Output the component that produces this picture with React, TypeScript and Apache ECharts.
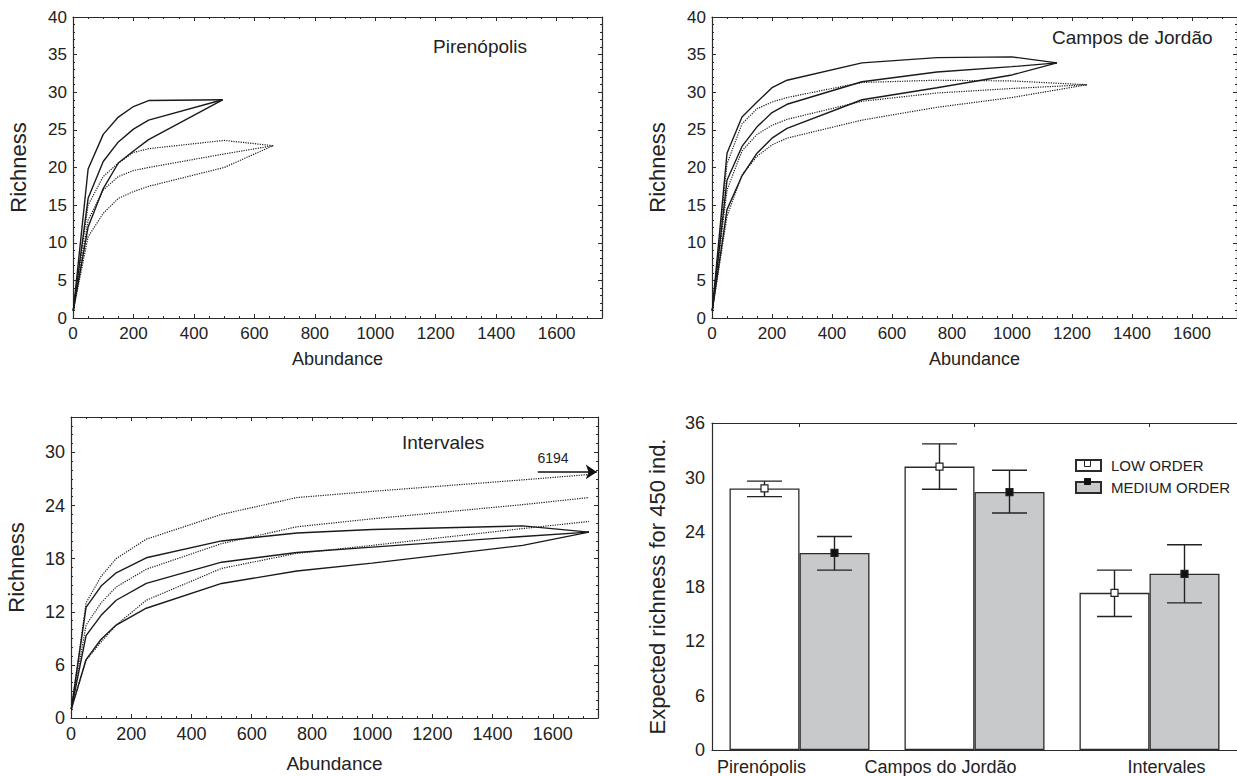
import React, { useEffect, useRef } from "react";
import * as echarts from "echarts";

// ---------- DATA ----------
// Pirenópolis (top-left)
const pirSolidX = [1, 50, 100, 150, 200, 250, 495];
const pirSolidUpper = [1, 19.8, 24.4, 26.7, 28.1, 28.9, 29.0];
const pirSolidMean = [1, 15.9, 20.8, 23.4, 25.1, 26.3, 29.0];
const pirSolidLower = [1, 12.1, 17.2, 20.6, 22.2, 23.7, 29.0];
const pirDottedX = [1, 50, 100, 150, 200, 250, 500, 662];
const pirDottedUpper = [1, 15.0, 18.8, 20.6, 22.0, 22.5, 23.6, 22.9];
const pirDottedMean = [1, 13.0, 17.0, 18.8, 19.6, 20.0, 21.8, 22.9];
const pirDottedLower = [1, 10.8, 13.9, 15.9, 16.8, 17.5, 20.0, 22.9];

// Campos de Jordão (top-right)
const camSolidX = [1, 50, 100, 150, 200, 250, 500, 750, 1000, 1150];
const camSolidUpper = [1, 21.9, 26.7, 28.7, 30.6, 31.6, 33.9, 34.6, 34.7, 33.9];
const camSolidMean = [1, 18.3, 22.8, 25.4, 27.3, 28.4, 31.4, 32.7, 33.4, 33.9];
const camSolidLower = [1, 14.4, 18.9, 21.9, 23.9, 25.2, 29.0, 30.6, 32.3, 33.9];
const camDottedX = [1, 50, 100, 150, 200, 250, 500, 750, 1000, 1250];
const camDottedUpper = [1, 20.5, 25.8, 27.8, 28.7, 29.3, 31.3, 31.6, 31.5, 31.0];
const camDottedMean = [1, 17.0, 22.2, 24.4, 25.6, 26.4, 28.8, 29.9, 30.5, 31.0];
const camDottedLower = [1, 13.5, 19.0, 21.5, 23.0, 23.9, 26.3, 28.0, 29.3, 31.0];

// Intervales (bottom-left)
const intSolidX = [1, 50, 100, 150, 250, 500, 750, 1000, 1500, 1720];
const intSolidUpper = [1, 12.5, 14.9, 16.4, 18.1, 20.0, 20.9, 21.3, 21.7, 21.0];
const intSolidMean = [1, 9.3, 11.6, 13.3, 15.2, 17.6, 18.7, 19.3, 20.5, 21.0];
const intSolidLower = [1, 6.6, 8.9, 10.5, 12.4, 15.2, 16.6, 17.5, 19.5, 21.0];
const intDottedX = [1, 50, 100, 150, 250, 500, 750, 1000, 1500, 1720];
const intDottedUpper = [1, 13.0, 16.0, 18.0, 20.2, 23.0, 24.9, 25.6, 26.9, 27.5];
const intDottedMean = [1, 10.5, 13.0, 14.8, 16.8, 19.7, 21.6, 22.5, 24.1, 24.9];
const intDottedLower = [1, 6.5, 8.6, 10.5, 13.3, 16.9, 18.6, 19.5, 21.4, 22.2];
const intArrowFrom = [1550, 27.8];
const intArrowTo = [1746, 27.8];
const intArrowLabel = "6194";

// Expected richness bars (bottom-right)
const sites = ["Pirenópolis", "Campos do Jordão", "Intervales"];
const lowMean = [28.8, 31.2, 17.3];
const lowUpper = [29.6, 33.7, 19.8];
const lowLower = [27.9, 28.7, 14.7];
const medMean = [21.7, 28.4, 19.4];
const medUpper = [23.5, 30.8, 22.6];
const medLower = [19.8, 26.1, 16.2];

const panelTitles = ["Pirenópolis", "Campos de Jordão", "Intervales"];

// ---------- STYLE ----------
const FONT = "'Liberation Sans', Arial, Helvetica, sans-serif";
const INK = "#1a1a1a";
const AXIS = "#2b2b2b";

function zip(xs: number[], ys: number[]) {
  return xs.map((x, i) => [x, ys[i]]);
}

function lineSeries(xs: number[], ys: number[], gi: number, dotted: boolean, extra: any = {}) {
  return {
    type: "line",
    xAxisIndex: gi * 2,
    yAxisIndex: gi * 2,
    data: zip(xs, ys),
    symbol: "none",
    showSymbol: false,
    silent: true,
    lineStyle: { color: INK, width: dotted ? 1.2 : 1.4, type: dotted ? "dotted" : "solid" },
    z: 3,
    ...extra,
  };
}

const plainNum = (v: number) => String(v);

function valueXAxes(gi: number) {
  const top = gi < 2;
  const base = {
    gridIndex: gi,
    type: "value",
    min: 0,
    max: 1750,
    interval: 200,
    axisLine: { show: true, onZero: false, lineStyle: { color: AXIS, width: 1.2 } },
    axisTick: { show: true, inside: true, length: 4, lineStyle: { color: AXIS } },
    minorTick: { show: true, splitNumber: 4, length: 2, lineStyle: { color: AXIS } },
    splitLine: { show: false },
    minorSplitLine: { show: false },
  };
  return [
    {
      ...base,
      position: "bottom",
      name: "Abundance",
      nameLocation: "middle",
      nameGap: top ? 32 : 36,
      nameTextStyle: { fontFamily: FONT, fontSize: top ? 18 : 19, color: "#222" },
      axisLabel: { show: true, fontFamily: FONT, fontSize: top ? 17 : 18, color: "#222", margin: 7, showMaxLabel: false, formatter: plainNum },
    },
    { ...base, position: "top", axisLabel: { show: false } },
  ];
}

function valueYAxes(gi: number, max: number, interval: number, minorSplit: number) {
  const top = gi < 2;
  const base = {
    gridIndex: gi,
    type: "value",
    min: 0,
    max,
    interval,
    axisLine: { show: true, onZero: false, lineStyle: { color: AXIS, width: 1.2 } },
    axisTick: { show: true, inside: true, length: 4, lineStyle: { color: AXIS } },
    minorTick: { show: true, splitNumber: minorSplit, length: 2, lineStyle: { color: AXIS } },
    splitLine: { show: false },
    minorSplitLine: { show: false },
  };
  return [
    {
      ...base,
      position: "left",
      name: "Richness",
      nameLocation: "middle",
      nameGap: 44,
      nameTextStyle: { fontFamily: FONT, fontSize: 22, color: "#222" },
      axisLabel: {
        show: true,
        fontFamily: FONT,
        fontSize: top ? 17 : 18,
        color: "#222",
        margin: 6,
        showMaxLabel: max % interval === 0,
        formatter: plainNum,
      },
    },
    { ...base, position: "right", axisLabel: { show: false } },
  ];
}

export default function App() {
  const ref = useRef<HTMLDivElement>(null);

  useEffect(() => {
    if (!ref.current) return;
    const chart = echarts.init(ref.current, null, { renderer: "svg" });

    const lowErr = sites.map((_, i) => [i, lowLower[i], lowUpper[i], lowMean[i], -1]);
    const medErr = sites.map((_, i) => [i, medLower[i], medUpper[i], medMean[i], 1]);

    const errRender = (filled: boolean) => (params: any, api: any) => {
      const idx = api.value(0);
      const lo = api.value(1);
      const hi = api.value(2);
      const m = api.value(3);
      const side = api.value(4);
      const band = api.size([1, 0])[0];
      const c = api.coord([idx, m]);
      const cx = c[0] + side * band * 0.2;
      const yTop = api.coord([idx, hi])[1];
      const yBot = api.coord([idx, lo])[1];
      const hw = band * 0.1;
      const st = { stroke: "#222", lineWidth: 1.4 };
      return {
        type: "group",
        children: [
          { type: "line", shape: { x1: cx, y1: yTop, x2: cx, y2: yBot }, style: st },
          { type: "line", shape: { x1: cx - hw, y1: yTop, x2: cx + hw, y2: yTop }, style: st },
          { type: "line", shape: { x1: cx - hw, y1: yBot, x2: cx + hw, y2: yBot }, style: st },
          {
            type: "rect",
            shape: { x: cx - 3.5, y: c[1] - 3.5, width: 7, height: 7 },
            style: { fill: filled ? "#111" : "#fff", stroke: "#222", lineWidth: 1.2 },
          },
        ],
      };
    };

    const axisTextStyle = { fontFamily: FONT, color: "#222" };

    const option: any = {
      animation: false,
      backgroundColor: "#ffffff",
      textStyle: { fontFamily: FONT },
      title: [
        { text: panelTitles[0], left: 433, top: 37, padding: 0, textStyle: { ...axisTextStyle, fontSize: 19, fontWeight: "normal" } },
        { text: panelTitles[1], left: 1052, top: 28, padding: 0, textStyle: { ...axisTextStyle, fontSize: 19, fontWeight: "normal" } },
        { text: panelTitles[2], left: 402, top: 433, padding: 0, textStyle: { ...axisTextStyle, fontSize: 19, fontWeight: "normal" } },
      ],
      grid: [
        { left: 73, top: 17, width: 529, height: 301 },
        { left: 712, top: 17, width: 526, height: 301 },
        { left: 71, top: 417, width: 527, height: 301 },
        { left: 712, top: 423, width: 527, height: 329 },
      ],
      xAxis: [
        ...valueXAxes(0),
        ...valueXAxes(1),
        ...valueXAxes(2),
        {
          gridIndex: 3,
          type: "category",
          data: sites,
          position: "bottom",
          axisLine: { show: true, onZero: false, lineStyle: { color: AXIS, width: 1.2 } },
          axisTick: { show: false },
          axisLabel: {
            interval: 0,
            fontFamily: FONT,
            fontSize: 18,
            color: "#222",
            margin: 8,
            formatter: (v: string) => (v === sites[0] ? `{a|${v}}` : v === sites[1] ? `{b|${v}}` : `{c|${v}}`),
            rich: {
              a: { fontFamily: FONT, fontSize: 18, color: "#222", padding: [0, 76, 0, 0] },
              b: { fontFamily: FONT, fontSize: 18, color: "#222", padding: [0, 68, 0, 0] },
              c: { fontFamily: FONT, fontSize: 18, color: "#222", padding: [0, 0, 0, 34] },
            },
          },
        },
        {
          gridIndex: 3,
          type: "category",
          data: sites,
          position: "top",
          axisLine: { show: true, onZero: false, lineStyle: { color: AXIS, width: 1.2 } },
          axisTick: { show: true, inside: true, alignWithLabel: true, length: 4, lineStyle: { color: AXIS } },
          axisLabel: { show: false },
        },
      ],
      yAxis: [
        ...valueYAxes(0, 40, 5, 5),
        ...valueYAxes(1, 40, 5, 5),
        ...valueYAxes(2, 34, 6, 6),
        {
          gridIndex: 3,
          type: "value",
          min: 0,
          max: 36,
          interval: 6,
          name: "Expected richness for 450 ind.",
          nameLocation: "middle",
          nameGap: 44,
          nameTextStyle: { fontFamily: FONT, fontSize: 22, color: "#222" },
          axisLine: { show: true, onZero: false, lineStyle: { color: AXIS, width: 1.2 } },
          axisTick: { show: false },
          splitLine: { show: false },
          axisLabel: { fontFamily: FONT, fontSize: 18, color: "#222", margin: 7 },
        },
      ],
      legend: {
        data: ["LOW ORDER", "MEDIUM ORDER"],
        orient: "vertical",
        left: 1075,
        top: 458,
        padding: 0,
        itemWidth: 25,
        itemHeight: 11,
        itemGap: 7,
        icon: "rect",
        selectedMode: false,
        textStyle: { fontFamily: FONT, fontSize: 15, color: "#222", padding: [0, 0, 0, 5] },
      },
      series: [
        lineSeries(pirSolidX, pirSolidUpper, 0, false),
        lineSeries(pirSolidX, pirSolidMean, 0, false),
        lineSeries(pirSolidX, pirSolidLower, 0, false),
        lineSeries(pirDottedX, pirDottedUpper, 0, true),
        lineSeries(pirDottedX, pirDottedMean, 0, true),
        lineSeries(pirDottedX, pirDottedLower, 0, true),

        lineSeries(camSolidX, camSolidUpper, 1, false),
        lineSeries(camSolidX, camSolidMean, 1, false),
        lineSeries(camSolidX, camSolidLower, 1, false),
        lineSeries(camDottedX, camDottedUpper, 1, true),
        lineSeries(camDottedX, camDottedMean, 1, true),
        lineSeries(camDottedX, camDottedLower, 1, true),

        lineSeries(intSolidX, intSolidUpper, 2, false),
        lineSeries(intSolidX, intSolidMean, 2, false),
        lineSeries(intSolidX, intSolidLower, 2, false),
        lineSeries(intDottedX, intDottedUpper, 2, true, {
          markLine: {
            silent: true,
            symbol: ["none", "arrow"],
            symbolSize: 11,
            label: { show: false },
            lineStyle: { color: "#111", width: 1.6, type: "solid" },
            data: [[{ coord: intArrowFrom }, { coord: intArrowTo }]],
          },
        }),
        lineSeries(intDottedX, intDottedMean, 2, true),
        lineSeries(intDottedX, intDottedLower, 2, true),

        {
          name: "LOW ORDER",
          type: "bar",
          xAxisIndex: 6,
          yAxisIndex: 6,
          data: lowMean,
          barGap: "0%",
          barCategoryGap: "20%",
          itemStyle: { color: "#ffffff", borderColor: "#2b2b2b", borderWidth: 1.3 },
          silent: true,
        },
        {
          name: "MEDIUM ORDER",
          type: "bar",
          xAxisIndex: 6,
          yAxisIndex: 6,
          data: medMean,
          barGap: "0%",
          barCategoryGap: "20%",
          itemStyle: { color: "#c8c9cb", borderColor: "#2b2b2b", borderWidth: 1.3 },
          silent: true,
        },
        {
          type: "custom",
          xAxisIndex: 6,
          yAxisIndex: 6,
          data: lowErr,
          encode: { x: 0, y: [1, 2, 3] },
          renderItem: errRender(false),
          z: 10,
          silent: true,
        },
        {
          type: "custom",
          xAxisIndex: 6,
          yAxisIndex: 6,
          data: medErr,
          encode: { x: 0, y: [1, 2, 3] },
          renderItem: errRender(true),
          z: 10,
          silent: true,
        },
      ],
      graphic: [
        {
          type: "text",
          x: 553,
          y: 458,
          style: { text: intArrowLabel, fontFamily: FONT, fontSize: 14, fill: "#222", textAlign: "center", textVerticalAlign: "middle" },
        },
        {
          type: "rect",
          shape: { x: 1084.5, y: 460.5, width: 6, height: 6 },
          style: { fill: "#fff", stroke: "#222", lineWidth: 1 },
          z: 100,
        },
        {
          type: "rect",
          shape: { x: 1084.5, y: 478.5, width: 6, height: 6 },
          style: { fill: "#111", stroke: "#111", lineWidth: 1 },
          z: 100,
        },
      ],
    };

    chart.setOption(option);
    return () => chart.dispose();
  }, []);

  return (
    <div
      ref={ref}
      style={{ position: "absolute", left: 0, top: 0, width: 1237, height: 776, background: "#fff" }}
    />
  );
}
